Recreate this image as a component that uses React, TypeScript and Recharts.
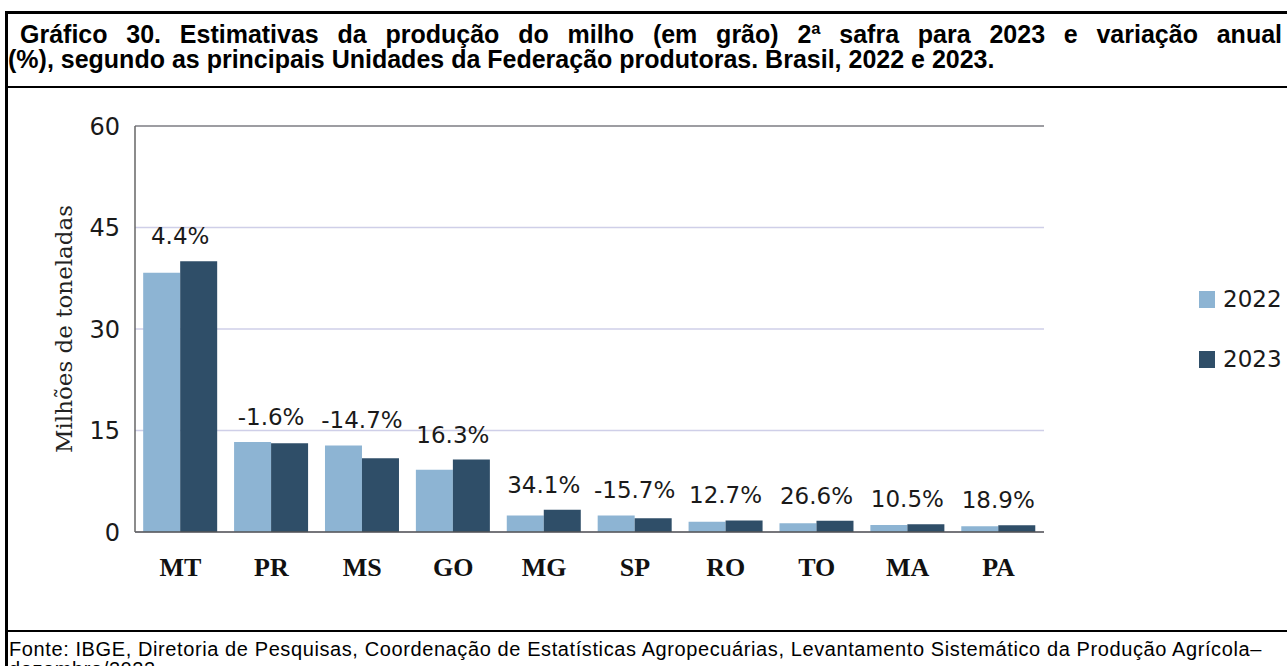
import React from "react";
import {
  BarChart, Bar, XAxis, YAxis, CartesianGrid, Legend, LabelList, ReferenceLine,
} from "recharts";

const estados = ["MT", "PR", "MS", "GO", "MG", "SP", "RO", "TO", "MA", "PA"];
const prod2022 = [38.3, 13.3, 12.8, 9.2, 2.45, 2.45, 1.5, 1.3, 1.05, 0.85];
const prod2023 = [40.0, 13.1, 10.9, 10.7, 3.3, 2.05, 1.7, 1.65, 1.16, 1.0];
const variacao = ["4.4%", "-1.6%", "-14.7%", "16.3%", "34.1%", "-15.7%", "12.7%", "26.6%", "10.5%", "18.9%"];
const yTicks = [0, 15, 30, 45, 60];

const COR_2022 = "#8db4d3";
const COR_2023 = "#2f4e68";

const data = estados.map((uf, i) => ({ uf, i, a2022: prod2022[i], a2023: prod2023[i] }));

const titleFont = "'Liberation Sans', Arial, sans-serif";

// percent label sits above the taller bar of each pair, centred on the group
function VarLabel(props: any) {
  const { x, y, height, value } = props;
  const i = Number(value);
  const bottom = y + height;
  const pxPerUnit = height / prod2023[i];
  const top2022 = bottom - prod2022[i] * pxPerUnit;
  const top = Math.min(y, top2022);
  return (
    <text
      x={x}
      y={top - 25}
      textAnchor="middle"
      dominantBaseline="central"
      fontFamily="'DejaVu Sans', sans-serif"
      fontSize={23}
      fill="#1a1a1a"
    >
      {variacao[i]}
    </text>
  );
}

function YTitle(props: any) {
  const vb = props.viewBox;
  const cx = vb.x + 64;
  const cy = vb.y + vb.height / 2;
  return (
    <text
      x={cx}
      y={cy}
      transform={`rotate(-90 ${cx} ${cy})`}
      textAnchor="middle"
      dominantBaseline="central"
      fontFamily="'DejaVu Serif', serif"
      fontSize={23}
      fill="#222"
    >
      Milhões de toneladas
    </text>
  );
}

function Legenda(props: any) {
  const items = props.payload || [];
  return (
    <div>
      {items.map((it: any) => (
        <div key={it.value} style={{ display: "flex", alignItems: "center", height: 30, marginBottom: 30 }}>
          <span style={{ width: 16, height: 17, background: it.color, display: "inline-block", marginRight: 8 }} />
          <span style={{ fontFamily: "'DejaVu Sans', sans-serif", fontSize: 23, color: "#1a1a1a" }}>{it.value}</span>
        </div>
      ))}
    </div>
  );
}

export default function App() {
  return (
    <div style={{ position: "absolute", left: 0, top: 0, width: 1287, height: 666, overflow: "hidden", background: "#fff" }}>
      <div style={{ position: "absolute", left: 5, top: 11, width: 1320, height: 720, border: "3px solid #000", boxSizing: "border-box" }} />
      <div style={{ position: "absolute", left: 5, top: 86, width: 1320, height: 2, background: "#000" }} />
      <div style={{ position: "absolute", left: 5, top: 630, width: 1320, height: 2, background: "#000" }} />

      {/* title: first line justified to the box width, last line left aligned */}
      <div style={{
        position: "absolute", left: 20, top: 22, width: 1262, whiteSpace: "nowrap",
        fontFamily: titleFont, fontWeight: 700, fontSize: 25, lineHeight: "24px", color: "#000",
        textAlign: "justify", textAlignLast: "justify",
      }}>
        Gráfico 30. Estimativas da produção do milho (em grão) 2ª safra para 2023 e variação anual
      </div>
      <div style={{
        position: "absolute", left: 8, top: 47, whiteSpace: "nowrap",
        fontFamily: titleFont, fontWeight: 700, fontSize: 25, lineHeight: "24px", color: "#000",
      }}>
        (%), segundo as principais Unidades da Federação produtoras. Brasil, 2022 e 2023.
      </div>

      <div style={{ position: "absolute", left: 0, top: 88 }}>
        <BarChart
          width={1287}
          height={540}
          data={data}
          margin={{ top: 38, right: 153, bottom: 0, left: 0 }}
          barCategoryGap="9%"
          barGap={0}
        >
          <CartesianGrid horizontal vertical={false} stroke="#cfcfe8" strokeWidth={1.5} />
          <XAxis
            dataKey="uf"
            height={96}
            tickSize={0}
            tickMargin={26}
            axisLine={{ stroke: "#555", strokeWidth: 1.5 }}
            tickLine={false}
            tick={{ fontFamily: "'Liberation Serif', serif", fontWeight: 700, fontSize: 26, fill: "#111" }}
          />
          <YAxis
            domain={[0, 60]}
            ticks={yTicks}
            width={135}
            tickSize={0}
            tickMargin={15}
            axisLine={{ stroke: "#666", strokeWidth: 1.5 }}
            tickLine={false}
            tick={{ fontFamily: "'DejaVu Sans', sans-serif", fontSize: 24, fill: "#1a1a1a" }}
            label={{ content: YTitle }}
          />
          <YAxis
            yAxisId="borda"
            orientation="right"
            domain={[0, 60]}
            width={0}
            tick={false}
            tickLine={false}
            axisLine={{ stroke: "#777", strokeWidth: 1.5 }}
          />
          <ReferenceLine y={60} stroke="#888" strokeWidth={1.5} />
          <Legend
            layout="vertical"
            align="right"
            verticalAlign="top"
            content={Legenda}
            wrapperStyle={{ left: 1199, top: 196, width: 90 }}
          />
          <Bar dataKey="a2022" name="2022" fill={COR_2022} isAnimationActive={false} />
          <Bar dataKey="a2023" name="2023" fill={COR_2023} isAnimationActive={false}>
            <LabelList dataKey="i" content={VarLabel} />
          </Bar>
        </BarChart>
      </div>

      <div style={{
        position: "absolute", left: 9, top: 639, width: 1280, whiteSpace: "nowrap",
        fontFamily: titleFont, fontSize: 20, lineHeight: "20px", letterSpacing: 0.6, color: "#000",
      }}>
        Fonte: IBGE, Diretoria de Pesquisas, Coordenação de Estatísticas Agropecuárias, Levantamento Sistemático da Produção Agrícola–<br />
        dezembro/2022.
      </div>
    </div>
  );
}
